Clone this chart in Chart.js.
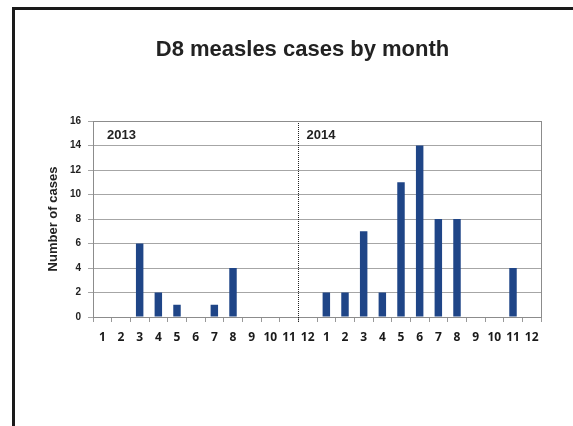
<!DOCTYPE html>
<html>
<head>
<meta charset="utf-8">
<script src="https://cdn.jsdelivr.net/npm/chart.js@4"></script>
<style>
  html, body { margin: 0; padding: 0; background: #fff; }
  #wrap { position: relative; width: 573px; height: 426px; overflow: hidden; }
  #frame { position: absolute; left: 12px; top: 7px; width: 600px; height: 460px;
           border-left: 3px solid #1a1a1a; border-top: 3px solid #1a1a1a; }
  canvas { position: absolute; left: 0; top: 0; }
</style>
</head>
<body>
<div id="wrap">
  <div id="frame"></div>
  <canvas id="chart" width="573" height="426"></canvas>
</div>
<script>
// month labels, two years side by side
const months = ["1","2","3","4","5","6","7","8","9","10","11","12",
                "1","2","3","4","5","6","7","8","9","10","11","12"];
const years = ["2013", "2014"];
const cases2013 = [0, 0, 6, 2, 1, 0, 1, 4, 0, 0, 0, 0];
const cases2014 = [2, 2, 7, 2, 11, 14, 8, 8, 0, 0, 4, 0];
const yTicks = [0, 2, 4, 6, 8, 10, 12, 14, 16];
const chartTitle = "D8 measles cases by month";

const barColor = "#1f4587";

// title, dotted divider, plot border and year names
const decorPlugin = {
    id: "decor",
    afterDraw: function(chart) {
        const ctx = chart.ctx;
        const a = chart.chartArea;
        const x = chart.scales.x;
        const half = (x.getPixelForValue(1) - x.getPixelForValue(0)) / 2;
        // divider sits at the left of 2013 december
        const divX = Math.round(x.getPixelForValue(11) - half) + 0.5;

        ctx.save();
        ctx.fillStyle = "#222";
        ctx.font = "bold 22px 'Liberation Sans', Arial, sans-serif";
        ctx.textAlign = "center";
        ctx.textBaseline = "alphabetic";
        ctx.fillText(chartTitle, 302.5, 56);

        ctx.strokeStyle = "#8c8c8c";
        ctx.lineWidth = 1;
        ctx.strokeRect(Math.round(a.left) + 0.5, Math.round(a.top) + 0.5,
                       Math.round(a.right - a.left), Math.round(a.bottom - a.top));

        ctx.strokeStyle = "#222";
        ctx.setLineDash([1, 1]);
        ctx.beginPath();
        ctx.moveTo(divX, a.top + 2);
        ctx.lineTo(divX, a.bottom + 6);
        ctx.stroke();
        ctx.setLineDash([]);

        ctx.textAlign = "left";
        ctx.font = "bold 13px 'Liberation Sans', Arial, sans-serif";
        ctx.fillText(years[0], a.left + 14, a.top + 18);
        ctx.fillText(years[1], divX + 8, a.top + 18);
        ctx.restore();
    }
};

new Chart(document.getElementById("chart"), {
    type: "bar",
    data: {
        labels: months,
        datasets: [{
            label: "Cases",
            data: cases2013.concat(cases2014),
            backgroundColor: barColor,
            borderWidth: 0,
            categoryPercentage: 1.0,
            barPercentage: 0.4
        }]
    },
    options: {
        responsive: false,
        animation: false,
        layout: { padding: { left: 0, right: 32, top: 121, bottom: 0 } },
        plugins: {
            legend: { display: false },
            tooltip: { enabled: false },
            title: { display: false }
        },
        scales: {
            x: {
                afterFit: function(s) { s.height = 109; },
                grid: { offset: true, drawOnChartArea: false, tickLength: 5, color: "#999" },
                border: { color: "#8c8c8c" },
                ticks: {
                    color: "#1a1a1a",
                    padding: 8,
                    maxRotation: 0,
                    autoSkip: false,
                    font: { family: "'Open Sans', Lato, sans-serif", size: 12, weight: "bold" }
                }
            },
            y: {
                min: 0,
                max: 16,
                afterFit: function(s) { s.width = 93; },
                afterBuildTicks: function(s) { s.ticks = yTicks.map(v => ({ value: v })); },
                grid: { color: "#a6a6a6", tickLength: 5 },
                border: { color: "#8c8c8c" },
                ticks: {
                    color: "#222",
                    padding: 7,
                    font: { family: "'Liberation Sans', Arial, sans-serif", size: 10, weight: "bold" }
                },
                title: {
                    display: true,
                    text: "Number of cases",
                    color: "#222",
                    padding: { top: 46, bottom: 0 },
                    font: { family: "'Liberation Sans', Arial, sans-serif", size: 13, weight: "bold" }
                }
            }
        }
    },
    plugins: [decorPlugin]
});
</script>
</body>
</html>
